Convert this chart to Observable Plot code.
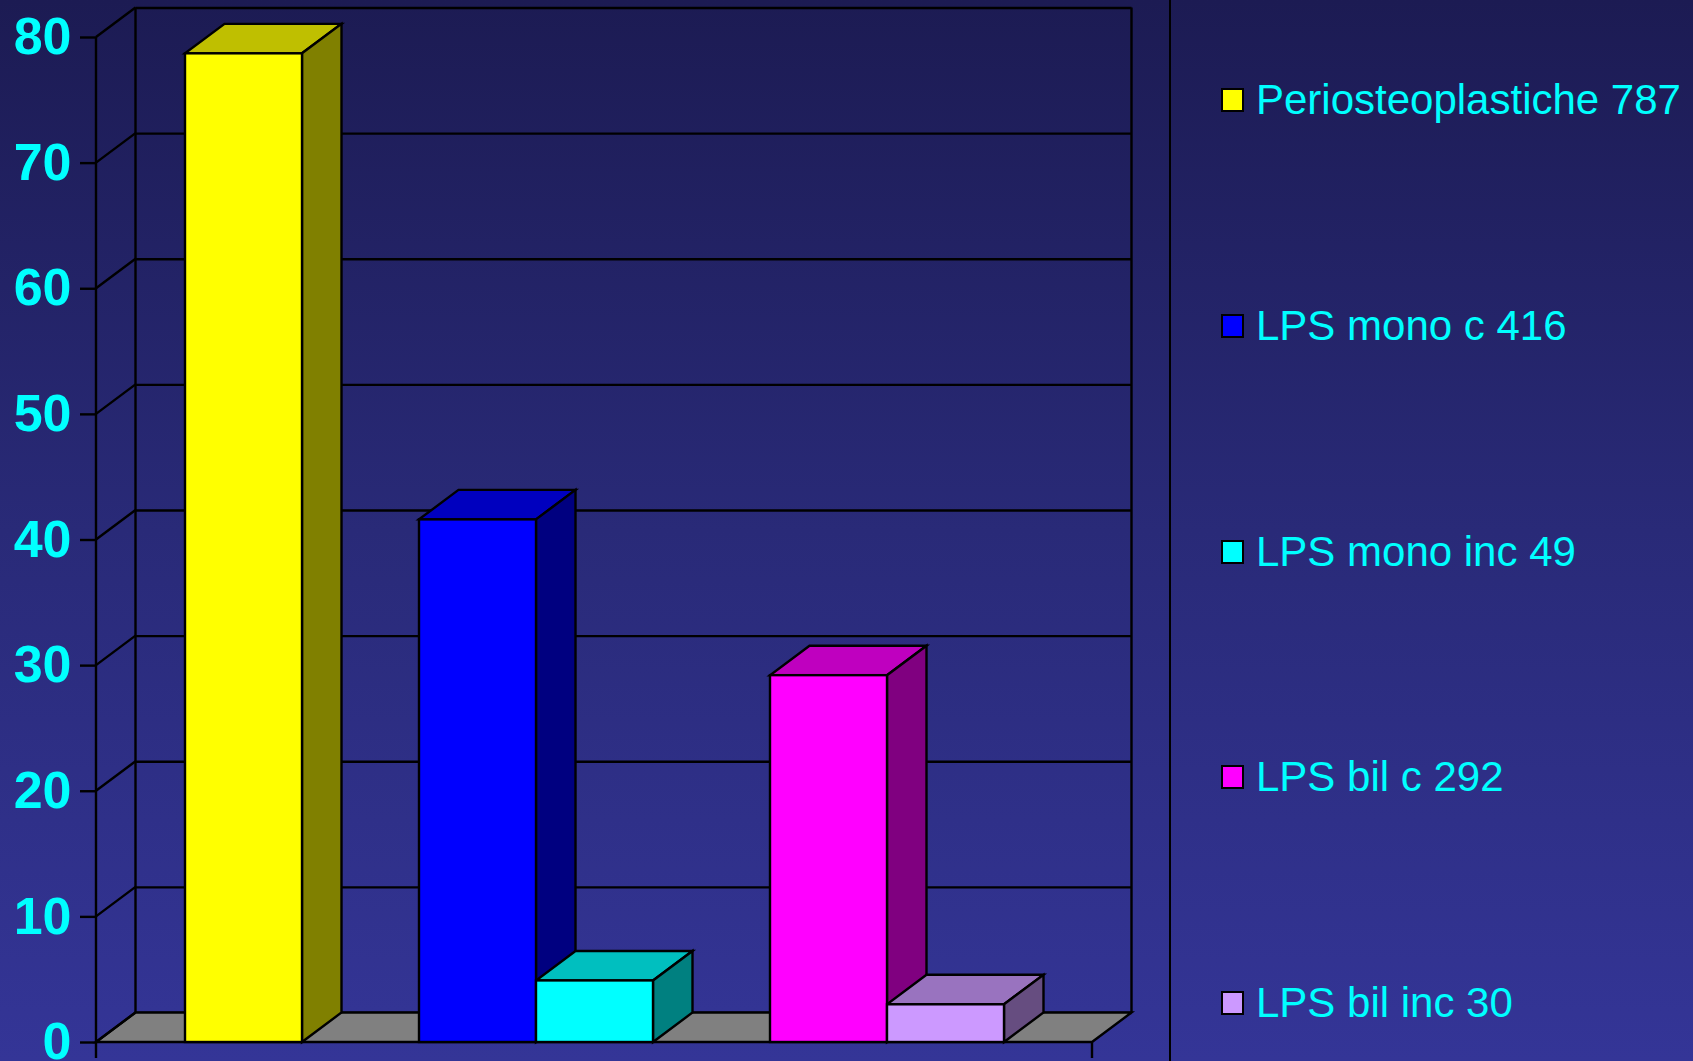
<!DOCTYPE html>
<html><head><meta charset="utf-8">
<script src="https://cdn.jsdelivr.net/npm/d3@7"></script>
<script src="https://cdn.jsdelivr.net/npm/@observablehq/plot@0.6"></script>
<style>
html,body{margin:0;padding:0;}
body{width:1693px;height:1061px;overflow:hidden;position:relative;
  background:linear-gradient(to bottom,#1c1b53 0%,#292a78 50%,#343597 100%);
  font-family:"Liberation Sans",Arial,sans-serif;}
#chart{position:absolute;left:0;top:0;}
#sep{position:absolute;left:1169px;top:0;width:2px;height:1061px;background:#000;}
.item{position:absolute;left:1221px;height:48px;display:flex;align-items:center;white-space:nowrap;}
.sw{width:19px;height:20px;border:2px solid #000;margin-right:12px;flex:none;}
.lb{font-size:42px;color:#00ffff;line-height:48px;}
</style></head><body>
<div id="chart"></div><div id="sep"></div><div id="legend"></div>
<script>
// ---- data ----
const names  = ["Periosteoplastiche 787", "LPS mono c 416", "LPS mono inc 49", "LPS bil c 292", "LPS bil inc 30"];
const groups = ["Periosteoplastiche", "LPS mono", "LPS mono", "LPS bil", "LPS bil"];
const values = [78.7, 41.6, 4.9, 29.2, 3.0];
const colors = ["#ffff00", "#0000ff", "#00ffff", "#ff00ff", "#cc99ff"];
const yTicks = [0, 10, 20, 30, 40, 50, 60, 70, 80];

const data = names.map((name, i) => ({name, group: groups[i], value: values[i], color: colors[i]}));
// x domain: one slot per series, a blank slot between groups
const xDomain = [];
data.forEach((d, i) => {
  if (i > 0 && d.group !== data[i - 1].group) xDomain.push(" ".repeat(xDomain.length + 1));
  xDomain.push(d.name);
});

// 3D depth offset (pixels) and line width
const DX = 39.5, DY = -29.5, SW = 2.4;
const shade = (c, k) => { const r = d3.rgb(c); return d3.rgb(r.r * k, r.g * k, r.b * k).formatHex(); };
const bwOf = x => typeof x.bandwidth === "function" ? x.bandwidth() : x.bandwidth;

// walls, floor, left-wall diagonals, front axis line
function walls(index, scales, values, dims) {
  const {y} = scales;
  const g = d3.create("svg:g").attr("fill", "none").attr("stroke", "#000").attr("stroke-width", SW);
  const x0 = dims.marginLeft, x1 = dims.width - dims.marginRight;
  const y0 = y(0), yT = y(d3.max(yTicks));
  g.append("path").attr("fill", "#808080")
    .attr("d", `M${x0},${y0}L${x1},${y0}L${x1 + DX},${y0 + DY}L${x0 + DX},${y0 + DY}Z`);
  for (const t of yTicks) {
    g.append("line").attr("x1", x0).attr("y1", y(t)).attr("x2", x0 + DX).attr("y2", y(t) + DY);
  }
  g.append("line").attr("x1", x0 + DX).attr("y1", yT + DY).attr("x2", x0 + DX).attr("y2", y0 + DY);
  g.append("line").attr("x1", x1 + DX).attr("y1", yT + DY).attr("x2", x1 + DX).attr("y2", y0 + DY);
  g.append("line").attr("x1", x0).attr("y1", yT).attr("x2", x0).attr("y2", y0 + 16);
  g.append("line").attr("x1", x1).attr("y1", y0).attr("x2", x1).attr("y2", y0 + 16);
  return g.node();
}

// top and side faces of each bar
function faces(index, scales) {
  const {x, y} = scales;
  const bw = bwOf(x);
  const g = d3.create("svg:g").attr("stroke", "#000").attr("stroke-width", SW);
  for (const d of data) {
    const xl = x(d.name), xr = xl + bw, yt = y(d.value), yb = y(0);
    g.append("path").attr("fill", shade(d.color, 0.75))
      .attr("d", `M${xl},${yt}L${xr},${yt}L${xr + DX},${yt + DY}L${xl + DX},${yt + DY}Z`);
    g.append("path").attr("fill", shade(d.color, 0.5))
      .attr("d", `M${xr},${yt}L${xr + DX},${yt + DY}L${xr + DX},${yb + DY}L${xr},${yb}Z`);
  }
  return g.node();
}

const chart = Plot.plot({
  width: 1170,
  height: 1061,
  marginLeft: 96,
  marginRight: 78,
  marginTop: 37,
  marginBottom: 19,
  style: {background: "transparent", fontFamily: "Liberation Sans, Arial, sans-serif", overflow: "visible"},
  x: {type: "band", domain: xDomain, paddingInner: 0, paddingOuter: 0.75, axis: null},
  y: {domain: [0, 80]},
  color: {domain: names, range: colors},
  marks: [
    Plot.ruleY(yTicks, {dx: DX, dy: DY, stroke: "#000", strokeWidth: SW}),
    walls,
    faces,
    Plot.barY(data, {x: "name", y: "value", fill: "name", stroke: "#000", strokeWidth: SW}),
    Plot.axisY(yTicks, {tickSize: 16, tickPadding: 9, fontSize: 52, fontWeight: "bold",
      fill: "#00ffff", stroke: "#000", strokeWidth: SW, label: null})
  ]
});
document.getElementById("chart").appendChild(chart);

// legend
const legend = document.getElementById("legend");
names.forEach((n, i) => {
  const it = document.createElement("div");
  it.className = "item";
  it.style.top = (100 + i * 225.75 - 24) + "px";
  const sw = document.createElement("div");
  sw.className = "sw"; sw.style.background = colors[i];
  const lb = document.createElement("span");
  lb.className = "lb"; lb.textContent = n;
  it.appendChild(sw); it.appendChild(lb);
  legend.appendChild(it);
});
</script>
</body></html>
